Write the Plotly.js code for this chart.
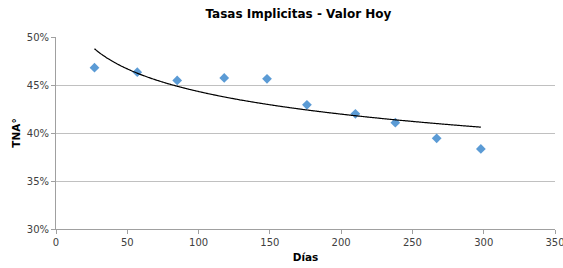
<!DOCTYPE html>
<html>
<head>
<meta charset="utf-8">
<script src="https://cdn.plot.ly/plotly-3.0.1.min.js"></script>
<style>html,body{margin:0;padding:0;background:#fff;}#chart{width:563px;height:268px;}</style>
</head>
<body>
<div id="chart"></div>
<script>
// Data
const dias = [27, 57, 85, 118, 148, 176, 210, 238, 267, 298];
const tna = [0.468, 0.4633, 0.4547, 0.4574, 0.4564, 0.4294, 0.4200, 0.4107, 0.3945, 0.3834];
const yTickVals = [0.30, 0.35, 0.40, 0.45, 0.50];
const yTickText = ["30%", "35%", "40%", "45%", "50%"];
const xTickVals = [0, 50, 100, 150, 200, 250, 300, 350];

// Logarithmic trendline (least squares y = a + b ln x), as in the source spreadsheet
const lx = dias.map(Math.log);
const n = dias.length;
const mx = lx.reduce((s, v) => s + v, 0) / n;
const my = tna.reduce((s, v) => s + v, 0) / n;
let sxy = 0, sxx = 0;
for (let i = 0; i < n; i++) { sxy += (lx[i] - mx) * (tna[i] - my); sxx += (lx[i] - mx) ** 2; }
const b = sxy / sxx, a = my - b * mx;
const trendX = [], trendY = [];
const x0 = Math.min(...dias), x1 = Math.max(...dias);
for (let k = 0; k <= 300; k++) {
  const x = x0 + (x1 - x0) * k / 300;
  trendX.push(x); trendY.push(a + b * Math.log(x));
}

const font = "'DejaVu Sans', 'Liberation Sans', sans-serif";
const traces = [
  {x: dias, y: tna, type: 'scatter', mode: 'markers',
   marker: {symbol: 'diamond', size: 7.5, color: '#5B9BD5'}, hoverinfo: 'skip'},
  {x: trendX, y: trendY, type: 'scatter', mode: 'lines',
   line: {color: '#000000', width: 1.2, shape: 'spline'}, hoverinfo: 'skip'}
];
const layout = {
  width: 563, height: 268,
  margin: {l: 56, r: 8, t: 37, b: 39},
  paper_bgcolor: '#fff', plot_bgcolor: '#fff',
  showlegend: false,
  font: {family: font, size: 10, color: '#404040'},
  title: {text: '<b>Tasas Implicitas - Valor Hoy</b>', x: 0.53, xanchor: 'center', y: 0.95, yanchor: 'middle',
          font: {family: font, size: 12, color: '#000'}},
  xaxis: {range: [0, 350], tickvals: xTickVals, ticks: 'outside', ticklen: 4, tickcolor: '#a0a0a0',
          showline: true, linecolor: '#a0a0a0', linewidth: 1, showgrid: false, zeroline: false,
          ticklabeloverflow: 'allow',
          tickfont: {family: font, size: 10, color: '#404040'},
          title: {text: '<b>Días</b>', font: {family: font, size: 10.5, color: '#000'}, standoff: 6}},
  yaxis: {range: [0.30, 0.50], tickvals: yTickVals, ticktext: yTickText, ticks: 'outside', ticklen: 4,
          tickcolor: '#a0a0a0', showline: true, linecolor: '#a0a0a0', linewidth: 1,
          showgrid: true, gridcolor: '#c0c0c0', gridwidth: 1, zeroline: false,
          tickfont: {family: font, size: 10, color: '#404040'},
          title: {text: '<b>TNA°</b>', font: {family: font, size: 10.5, color: '#000'}, standoff: 4}}
};
Plotly.newPlot('chart', traces, layout, {staticPlot: true, displayModeBar: false});
</script>
</body>
</html>
